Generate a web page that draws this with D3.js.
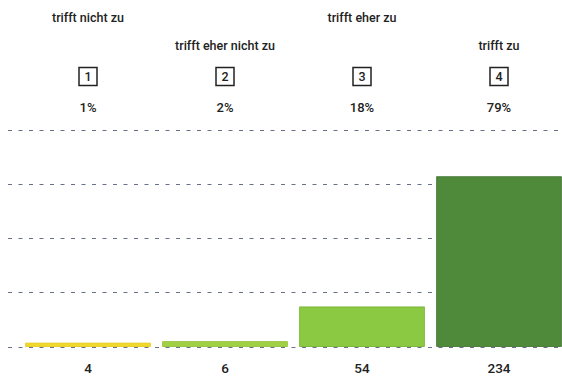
<!DOCTYPE html>
<html>
<head>
<meta charset="utf-8">
<style>
body { margin: 0; background: #fff; }
svg text { font-family: Roboto, "Noto Sans", sans-serif; fill: #222; }
.lbl { font-size: 12.5px; font-weight: 500; }
.pct { font-size: 13px; font-weight: 500; }
.num { font-size: 13.5px; font-weight: 500; }
.grid line { stroke: #687089; stroke-width: 1; stroke-dasharray: 4,6.5; }
</style>
</head>
<body>
<svg id="chart" width="562" height="376"></svg>
<script src="https://cdnjs.cloudflare.com/ajax/libs/d3/7.8.5/d3.min.js"></script>
<script>
const codes = ["1", "2", "3", "4"];
const answers = ["trifft nicht zu", "trifft eher nicht zu", "trifft eher zu", "trifft zu"];
const percents = ["1%", "2%", "18%", "79%"];
const counts = [4, 6, 54, 234];
const gridTicks = [0, 75, 150, 225, 300];
const colors = ["#f0d82c", "#a2d044", "#8cc942", "#4f8a3b"];
const strokes = ["#e3c81a", "#8dbf30", "#6fae2c", "#3b6e2c"];

const svg = d3.select("#chart");

const x = d3.scaleBand()
    .domain(codes)
    .range([19.5, 567.5])
    .paddingInner(0.09)
    .paddingOuter(0.045);

const y = d3.scaleLinear()
    .domain([0, 300])
    .range([346.5, 129.5]);

// dashed grid lines
svg.append("g")
    .attr("class", "grid")
    .selectAll("line")
    .data(gridTicks)
    .join("line")
    .attr("x1", 8)
    .attr("x2", 562)
    .attr("y1", d => Math.round(y(d)) + 0.5)
    .attr("y2", d => Math.round(y(d)) + 0.5);

// bars
svg.append("g")
    .selectAll("rect")
    .data(codes)
    .join("rect")
    .attr("x", d => x(d))
    .attr("width", x.bandwidth())
    .attr("y", (d, i) => y(counts[i]) - 0.5)
    .attr("height", (d, i) => y(0) - y(counts[i]) + 0.5)
    .attr("fill", (d, i) => colors[i])
    .attr("stroke", (d, i) => strokes[i])
    .attr("stroke-width", 0.8);

const cx = d => x(d) + x.bandwidth() / 2;

// answer labels, staggered
svg.append("g")
    .selectAll("text")
    .data(codes)
    .join("text")
    .attr("class", "lbl")
    .attr("x", cx)
    .attr("y", (d, i) => i % 2 === 0 ? 22 : 50)
    .attr("text-anchor", "middle")
    .text((d, i) => answers[i]);

// code boxes
const box = svg.append("g")
    .selectAll("g")
    .data(codes)
    .join("g")
    .attr("transform", d => `translate(${cx(d)},76.5)`);

box.append("rect")
    .attr("x", -9)
    .attr("y", -9)
    .attr("width", 18)
    .attr("height", 18)
    .attr("fill", "none")
    .attr("stroke", "#222")
    .attr("stroke-width", 1.5);

box.append("text")
    .attr("class", "lbl")
    .attr("text-anchor", "middle")
    .attr("y", 4.5)
    .text(d => d);

// percents
svg.append("g")
    .selectAll("text")
    .data(codes)
    .join("text")
    .attr("class", "pct")
    .attr("x", cx)
    .attr("y", 112)
    .attr("text-anchor", "middle")
    .text((d, i) => percents[i]);

// counts
svg.append("g")
    .selectAll("text")
    .data(codes)
    .join("text")
    .attr("class", "num")
    .attr("x", cx)
    .attr("y", 373)
    .attr("text-anchor", "middle")
    .text((d, i) => counts[i]);
</script>
</body>
</html>
